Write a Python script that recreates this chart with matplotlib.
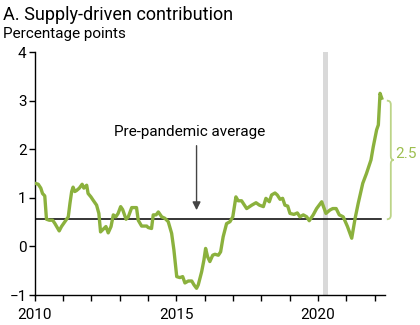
import matplotlib
matplotlib.use("Agg")
import matplotlib.pyplot as plt
from matplotlib.path import Path
from matplotlib.patches import PathPatch

plt.rcParams['font.family'] = ['Roboto', 'DejaVu Sans']

# supply-driven contribution (decimal year, pp)
years = [2010.00, 2010.12, 2010.21, 2010.27, 2010.35, 2010.41, 2010.51, 2010.63, 2010.71, 2010.86,
         2010.94, 2011.06, 2011.18, 2011.24, 2011.30, 2011.35, 2011.41, 2011.47, 2011.57, 2011.67,
         2011.73, 2011.83, 2011.88, 2011.98, 2012.06, 2012.18, 2012.26, 2012.32, 2012.44, 2012.51,
         2012.59, 2012.69, 2012.77, 2012.86, 2012.94, 2013.03, 2013.10, 2013.22, 2013.30, 2013.42,
         2013.59, 2013.65, 2013.77, 2013.95, 2014.00, 2014.12, 2014.18, 2014.28, 2014.36, 2014.48,
         2014.59, 2014.71, 2014.83, 2014.91, 2015.01, 2015.12, 2015.22, 2015.30, 2015.42, 2015.54,
         2015.62, 2015.71, 2015.77, 2015.89, 2015.97, 2016.03, 2016.10, 2016.18, 2016.28, 2016.36,
         2016.48, 2016.56, 2016.65, 2016.77, 2016.89, 2016.99, 2017.10, 2017.18, 2017.30, 2017.48,
         2017.66, 2017.81, 2017.93, 2018.07, 2018.16, 2018.28, 2018.36, 2018.48, 2018.56, 2018.66,
         2018.75, 2018.83, 2018.93, 2019.01, 2019.15, 2019.27, 2019.36, 2019.48, 2019.60, 2019.69,
         2019.83, 2019.95, 2020.13, 2020.28, 2020.42, 2020.52, 2020.64, 2020.75, 2020.89, 2021.04,
         2021.19, 2021.31, 2021.42, 2021.58, 2021.71, 2021.87, 2021.95, 2022.07, 2022.13, 2022.19,
         2022.25]
values = [1.30, 1.28, 1.20, 1.09, 1.04, 0.56, 0.54, 0.54, 0.47, 0.32,
          0.41, 0.51, 0.61, 0.89, 1.13, 1.22, 1.13, 1.15, 1.20, 1.28,
          1.20, 1.26, 1.09, 1.02, 0.95, 0.85, 0.68, 0.30, 0.37, 0.41,
          0.28, 0.41, 0.65, 0.61, 0.68, 0.82, 0.76, 0.56, 0.61, 0.80,
          0.80, 0.54, 0.42, 0.42, 0.39, 0.37, 0.65, 0.65, 0.71, 0.61,
          0.58, 0.51, 0.27, -0.07, -0.62, -0.64, -0.62, -0.75, -0.71, -0.71,
          -0.79, -0.86, -0.79, -0.52, -0.28, -0.04, -0.21, -0.31, -0.18, -0.16,
          -0.18, -0.11, 0.20, 0.47, 0.51, 0.61, 1.02, 0.94, 0.94, 0.78,
          0.85, 0.90, 0.85, 0.82, 0.99, 0.92, 1.06, 1.10, 1.06, 0.97,
          0.99, 0.85, 0.83, 0.68, 0.66, 0.69, 0.61, 0.65, 0.61, 0.53,
          0.65, 0.78, 0.92, 0.68, 0.75, 0.78, 0.78, 0.65, 0.61, 0.41,
          0.17, 0.58, 0.89, 1.30, 1.50, 1.78, 2.05, 2.40, 2.50, 3.15,
          3.05]

pre_pandemic_avg = 0.56
recession = (2020.17, 2020.35)
gap_label = "2.5"
gap_top = 3.0

green = "#8bb13d"
light_green = "#bcd488"

fig = plt.figure(figsize=(4.2, 3.25), dpi=100)
ax = fig.add_axes([0.083, 0.092, 0.834, 0.748])

ax.axvspan(recession[0], recession[1], color="#d9d9d9", lw=0, zorder=1)
ax.plot([2010, 2022.23], [pre_pandemic_avg, pre_pandemic_avg], color="black", lw=1.1, zorder=2)
ax.plot(years, values, color=green, lw=2.4, solid_joinstyle="round", zorder=3)

ax.set_xlim(2010, 2022.37)
ax.set_ylim(-1, 4)
ax.set_xticks(range(2010, 2023))
ax.set_xticklabels(["2010", "", "", "", "", "2015", "", "", "", "", "2020", "", ""])
ax.set_yticks([-1, 0, 1, 2, 3, 4])
ax.tick_params(axis="both", labelsize=11, length=4, width=1, color="black", pad=2)
ax.tick_params(axis="x", pad=5)
for s in ["top", "right"]:
    ax.spines[s].set_visible(False)
for s in ["left", "bottom"]:
    ax.spines[s].set_linewidth(1)

# annotation
ax.text(2015.45, 2.35, "Pre-pandemic average", fontsize=11, ha="center", va="center")
ax.annotate("", xy=(2015.71, 0.69), xytext=(2015.71, 2.13),
            arrowprops=dict(arrowstyle="-|>", color="#444444", lw=1, mutation_scale=12))

# brace on the right
bx = 2022.57
dx = 0.14
tip = (gap_top + pre_pandemic_avg) / 2
verts = [(bx - dx, gap_top), (bx, gap_top), (bx, gap_top - 0.08),
         (bx, tip + 0.08), (bx, tip), (bx + 0.1, tip), (bx, tip), (bx, tip - 0.08),
         (bx, pre_pandemic_avg + 0.08), (bx, pre_pandemic_avg), (bx - dx, pre_pandemic_avg)]
codes = [Path.MOVETO, Path.CURVE3, Path.CURVE3, Path.LINETO, Path.CURVE3, Path.CURVE3,
         Path.CURVE3, Path.CURVE3, Path.LINETO, Path.CURVE3, Path.CURVE3]
ax.add_patch(PathPatch(Path(verts, codes), fill=False, ec=light_green, lw=1.3, clip_on=False))
ax.text(bx + 0.17, tip + 0.13, gap_label, color="#9dbf50", fontsize=11, ha="left", va="center")

fig.text(0.007, 0.955, "A. Supply-driven contribution", fontsize=13, ha="left", va="center")
fig.text(0.007, 0.895, "Percentage points", fontsize=11, ha="left", va="center")

fig.savefig("out.png", dpi=100)
